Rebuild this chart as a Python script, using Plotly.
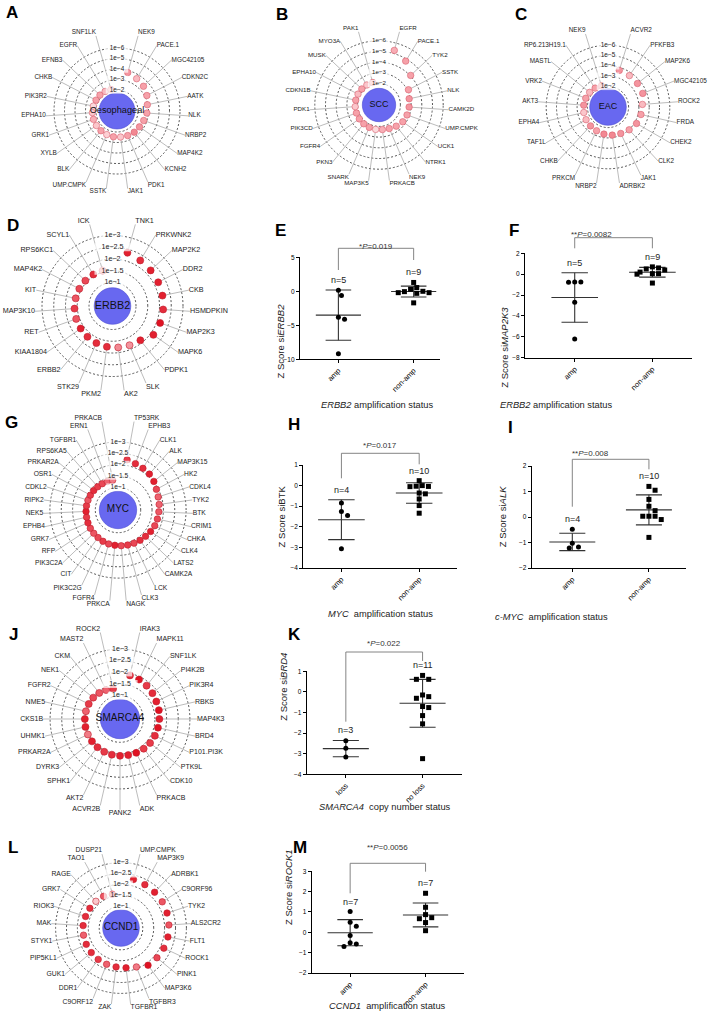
import numpy as np
import plotly.graph_objects as go

W, H = 714, 1020
FONT = "Liberation Sans, Arial, Helvetica, sans-serif"

# ---------------- radial plots: genes clockwise from 12 o'clock, -log10(p), shade
A_genes = ["NEK9", "PACE.1", "MGC42105", "CDKN2C", "AATK", "NLK", "NRBP2", "MAP4K2", "KCNH2", "PDK1", "JAK1",
           "SSTK", "UMP.CMPK", "BLK", "XYLB", "GRK1", "EPHA10", "PIK3R2", "CHKB", "EFNB3", "EGFR", "SNF1LK"]
A_logp = [3.8, 3.6, 3.45, 3.2, 2.95, 2.85, 2.7, 2.62, 2.6, 2.55, 2.5, 2.48, 2.45, 2.42, 2.4, 2.38, 2.35, 2.3,
          2.25, 2.22, 2.18, 2.12]
A_shade = [.5, .35, .45, .45, .45, .45, .45, .5, .55, .45, .3, .45, .25, .45, .3, .4, .3, .2, .45, .45, .35, .4]

B_genes = ["EGFR", "PACE.1", "TYK2", "SSTK", "NLK", "CAMK2D", "UMP.CMPK", "UCK1", "NTRK1", "NEK9", "PRKACB",
           "MAP3K5", "SNARK", "PKN3", "FGFR4", "PIK3CD", "PDK1", "CDKN1B", "EPHA10", "MUSK", "MYO3A", "PAK1"]
B_logp = [5.3, 4.8, 4.05, 3.1, 2.88, 2.82, 2.78, 2.72, 2.55, 2.4, 2.32, 2.3, 2.28, 2.26, 2.25, 2.24, 2.23, 2.22,
          2.21, 2.2, 2.19, 2.18]
B_shade = [.4, .45, .45, .45, .5, .5, .45, .45, .45, .45, .4, .2, .45, .45, .45, .45, .3, .45, .35, .45, .3, .45]

C_genes = ["ACVR2", "PFKFB3", "MAP2K6", "MGC42105", "ROCK2", "FRDA", "CHEK2", "CLK2", "JAK1", "ADRBK2", "NRBP2",
           "PRKCM", "CHKB", "TAF1L", "EPHA4", "AKT3", "VRK2", "MASTL", "RP6.213H19.1", "NEK9"]
C_logp = [3.72, 3.69, 3.66, 3.62, 3.35, 3.28, 3.2, 3.02, 2.85, 2.76, 2.66, 2.56, 2.5, 2.46, 2.41, 2.36, 2.32,
          2.28, 2.22, 2.15]
C_shade = [.5, .35, .5, .5, .35, .45, .5, .45, .5, .55, .55, .45, .5, .35, .3, .5, .45, .35, .45, .5]

D_genes = ["TNK1", "PRKWNK2", "MAP2K2", "DDR2", "CKB", "HSMDPKIN", "MAP2K3", "MAPK6", "PDPK1", "SLK", "AK2",
           "PKM2", "STK29", "ERBB2", "KIAA1804", "RET", "MAP3K10", "KIT", "MAP4K2", "RPS6KC1", "SCYL1", "ICK"]
D_logp = [2.35, 2.27, 2.22, 2.19, 2.17, 2.16, 2.15, 2.13, 1.88, 1.82, 1.78, 1.75, 1.72, 1.69, 1.66, 1.64, 1.62,
          1.6, 1.59, 1.58, 1.57, 1.56]
D_shade = [.95, .9, .95, .95, .95, .9, 1, .95, .95, .5, .55, .9, .9, .9, .95, .75, .85, .75, .8, .8, .9, .5]

G_genes = ["TP53RK", "EPHB3", "CLK1", "ALK", "MAP3K15", "HK2", "CDKL4", "TYK2", "BTK", "CRIM1", "CHKA", "CLK4",
           "LATS2", "CAMK2A", "LCK", "CLK3", "NAGK", "PRKCA", "FGFR4", "PIK3C2G", "CIT", "PIK3C2A", "RFP", "GRK7",
           "EPHB4", "NEK5", "RIPK2", "CDKL2", "OSR1", "PRKAR2A", "RPS6KA5", "TGFBR1", "ERN1", "PRKACB"]
G_logp = [2.25, 2.18, 2.14, 2.1, 2.02, 1.92, 1.86, 1.83, 1.8, 1.78, 1.76, 1.72, 1.68, 1.65, 1.62, 1.6, 1.58,
          1.56, 1.55, 1.53, 1.5, 1.48, 1.46, 1.44, 1.42, 1.41, 1.4, 1.39, 1.38, 1.37, 1.36, 1.35, 1.34, 1.33]
G_shade = [.85, .9, .9, .95, .95, .8, .7, .7, .75, .8, .8, .95, .9, .9, .8, .85, .8, .95, .8, .85, .8, .75, .8,
           .9, .85, .95, .85, .75, .85, .9, .85, .8, .7, .6]

J_genes = ["IRAK3", "MAPK11", "SNF1LK", "PI4K2B", "PIK3R4", "RBKS", "MAP4K3", "BRD4", "P101.PI3K", "PTK9L",
           "CDK10", "PRKACB", "ADK", "PANK2", "ACVR2B", "AKT2", "SPHK1", "DYRK3", "PRKAR2A", "UHMK1", "CKS1B",
           "NME5", "FGFR2", "NEK1", "CKM", "MAST2", "ROCK2"]
J_logp = [1.92, 1.88, 1.83, 1.78, 1.73, 1.71, 1.69, 1.67, 1.66, 1.65, 1.63, 1.61, 1.59, 1.58, 1.57, 1.56, 1.55,
          1.54, 1.53, 1.52, 1.51, 1.5, 1.49, 1.47, 1.43, 1.38, 1.33]
J_shade = [.9, 1, .85, .9, .95, 1, .95, 1, .9, .85, .85, 1, .95, .95, .9, .85, .9, .95, .6, .95, .95, .7, .85,
           .8, .75, .7, .85]

L_genes = ["UMP.CMPK", "MAP3K9", "ADRBK1", "C9ORF96", "TYK2", "ALS2CR2", "FLT1", "ROCK1", "PINK1", "MAP3K6",
           "TGFBR3", "TGFBR1", "ZAK", "C9ORF12", "DDR1", "GUK1", "PIP5KL1", "STYK1", "MAK", "RIOK3", "GRK7",
           "RAGE", "TAO1", "DUSP21"]
L_logp = [2.3, 2.27, 2.25, 2.24, 2.22, 2.2, 2.19, 2.17, 2.14, 2.11, 1.92, 1.84, 1.8, 1.79, 1.78, 1.77, 1.76,
          1.75, 1.74, 1.71, 1.69, 1.68, 1.66, 1.6]
L_shade = [.95, .9, .95, .75, .95, .75, .95, .9, .8, 1, .6, .95, .9, .7, .85, .9, .9, .7, .9, .9, .9, .3, .75, .7]

RINGS_HI = [2, 3, 4, 5, 6]
RINGS_HI_TXT = ["1e−2", "1e−3", "1e−4", "1e−5", "1e−6"]
RINGS_LO = [1, 1.5, 2, 2.5, 3]
RINGS_LO_TXT = ["1e−1", "1e−1.5", "1e−2", "1e−2.5", "1e−3"]

# ---------------- dot plots (Z scores)
E_amp = [0.15, -0.6, -3.8, -4.1, -9.2]
E_non = [1.3, 0.55, 0.3, -0.05, -0.2, -0.2, -0.3, 0.0, -1.7]
F_amp = [-0.75, -0.75, -0.78, -2.7, -6.2]
F_non = [0.7, 0.6, 0.5, 0.4, 0.2, 0.05, 0.0, 0.05, -0.85]
H_amp = [-0.85, -1.26, -1.45, -3.06]
H_non = [0.24, -0.03, -0.05, -0.04, 0.0, -0.36, -0.4, -0.65, -0.97, -1.34]
I_amp = [-0.48, -1.03, -1.22, -1.18]
I_non = [1.2, 1.05, 0.69, 0.42, 0.25, 0.03, 0.03, -0.1, 0.03, -0.8]
K_loss = [-2.37, -2.73, -3.16]
K_noloss = [0.8, 0.61, 0.61, -0.15, -0.31, -0.23, -0.71, -0.76, -1.15, -1.55, -3.24]
M_amp = [1.02, 0.49, 0.3, -0.16, -0.51, -0.57, -0.7]
M_non = [1.92, 1.23, 0.87, 0.67, 0.72, 0.48, 0.08]

AMP_CATS = ["amp", "non-amp"]
LOSS_CATS = ["loss", "no loss"]

SHADES = [[0, "#ffffff"], [0.3, "#fbc6cb"], [0.5, "#f4949e"], [0.75, "#ec5663"], [1, "#df1222"]]


def px_x(v):
    return v / W


def px_y(v):
    return 1 - v / H


fig = go.Figure()


def label_pos(t):
    if t < 4 or t > 356:
        return "top center"
    if abs(t - 180) < 4:
        return "bottom center"
    if t < 30:
        return "top right"
    if t <= 150:
        return "middle right"
    if t < 180:
        return "bottom right"
    if t < 210:
        return "bottom left"
    if t <= 330:
        return "middle left"
    return "top left"


def radial(num, genes, logp, shade, hub, rings, ring_txt, g):
    sub = "polar" if num == 1 else "polar%d" % num
    n = len(genes)
    theta = [(i + 1) * 360 / (n + 1) for i in range(n)]
    # labels sit further out above and below the hub, so neighbours there stack instead of colliding
    st, pw = g.get("stretch", 0.1), g.get("pw", 2)
    rlab = [g["rlab"] * (1 + st * abs(np.cos(np.radians(t))) ** pw) for t in theta]

    # leader lines from each dot out to its label
    r_l, t_l = [], []
    for e, t, rl in zip(logp, theta, rlab):
        r_l += [e, rl, None]
        t_l += [t, t, None]
    fig.add_trace(go.Scatterpolar(r=r_l, theta=t_l, mode="lines", subplot=sub, hoverinfo="skip",
                                  line=dict(color="#ababab", width=0.8)))
    fig.add_trace(go.Scatterpolar(r=logp, theta=theta, mode="markers", subplot=sub, cliponaxis=False,
                                  text=genes,
                                  marker=dict(size=g["dot"], color=shade, colorscale=SHADES, cmin=0, cmax=1,
                                              line=dict(color=g["edge"], width=0.6))))
    fig.add_trace(go.Scatterpolar(r=rlab, theta=theta, mode="text", subplot=sub, cliponaxis=False,
                                  text=genes, textposition=[label_pos(t) for t in theta],
                                  textfont=dict(size=g["fs"], color="#222", family=FONT), hoverinfo="skip"))
    # central hub
    fig.add_trace(go.Scatterpolar(r=[0], theta=[0], mode="markers+text", subplot=sub, cliponaxis=False,
                                  marker=dict(size=2 * g["hub"], color="#6868f0",
                                              line=dict(color="#4d4dd2", width=0.6)),
                                  text=[hub], textposition="middle center",
                                  textfont=dict(size=g["cfs"], color="#111", family=FONT)))
    # ring labels on a white strip
    fig.add_trace(go.Scatterpolar(r=rings, theta=[0] * len(rings), mode="markers+text", subplot=sub,
                                  cliponaxis=False, text=ring_txt, textposition="middle center",
                                  textfont=dict(size=g["fs"], color="#222", family=FONT),
                                  marker=dict(symbol="line-ew", size=[len(s) * g["fs"] * 0.55 + 2 for s in ring_txt],
                                              line=dict(color="white", width=g["fs"] + 1)),
                                  hoverinfo="skip"))
    half = g["rmax"] * g["k"]
    fig.update_layout(**{sub: dict(
        domain=dict(x=[px_x(g["cx"] - half), px_x(g["cx"] + half)],
                    y=[px_y(g["cy"] + half), px_y(g["cy"] - half)]),
        bgcolor="rgba(0,0,0,0)",
        radialaxis=dict(range=[0, g["rmax"]], tickvals=rings, showticklabels=False, ticks="", showline=False,
                        showgrid=True, gridcolor="#555", gridwidth=0.7, griddash="2px,2px"),
        angularaxis=dict(rotation=90, direction="clockwise", showgrid=False, showline=False,
                         showticklabels=False, ticks=""))})


PINK_EDGE = "#d9606e"
RED_EDGE = "#c01c2c"
radial(1, A_genes, A_logp, A_shade, "Oesophageal", RINGS_HI, RINGS_HI_TXT,
       dict(cx=117, cy=111, k=10.5, rmax=7.8, rlab=6.8, hub=18, fs=6.4, cfs=9.2, dot=6.5, edge=PINK_EDGE))
radial(2, B_genes, B_logp, B_shade, "SCC", RINGS_HI, RINGS_HI_TXT,
       dict(cx=379, cy=105, k=10.7, rmax=7.6, rlab=6.5, hub=16.7, fs=6.2, cfs=9, dot=6.5, edge=PINK_EDGE))
radial(3, C_genes, C_logp, C_shade, "EAC", RINGS_HI, RINGS_HI_TXT,
       dict(cx=608, cy=107, k=10.3, rmax=7.8, rlab=6.8, hub=18.3, fs=6.4, cfs=9, dot=6.5, edge=PINK_EDGE))
radial(4, D_genes, D_logp, D_shade, "ERBB2", RINGS_LO, RINGS_LO_TXT,
       dict(cx=112.5, cy=306, k=23.5, rmax=3.8, rlab=3.3, hub=18.3, fs=7.2, cfs=10.8, dot=7, edge=RED_EDGE))
radial(5, G_genes, G_logp, G_shade, "MYC", RINGS_LO, RINGS_LO_TXT,
       dict(cx=118, cy=510, k=22.7, rmax=4.1, rlab=3.3, hub=18.7, fs=6.7, cfs=10, dot=6.5, edge=RED_EDGE,
            stretch=0.22, pw=6))
radial(6, J_genes, J_logp, J_shade, "SMARCA4", RINGS_LO, RINGS_LO_TXT,
       dict(cx=120, cy=719, k=23.3, rmax=4.0, rlab=3.3, hub=19.7, fs=7, cfs=10, dot=7, edge=RED_EDGE,
            stretch=0.18, pw=6))
radial(7, L_genes, L_logp, L_shade, "CCND1", RINGS_LO, RINGS_LO_TXT,
       dict(cx=121, cy=928, k=21.8, rmax=3.7, rlab=3.2, hub=18.3, fs=6.8, cfs=10, dot=6.5, edge=RED_EDGE))


def swarm(vals, ppx, ppy, d=5.6):
    placed = []
    offs = np.zeros(len(vals))
    for i in np.argsort(vals)[::-1]:
        y = vals[i] * ppy
        x = 0.0
        for step in [0, 1, -1, 2, -2, 3, -3, 4, -4, 5, -5]:
            x = step * d * 0.55
            if all((x - px) ** 2 + (y - py) ** 2 >= d * d for px, py in placed):
                break
        placed.append((x, y))
        offs[i] = x / ppx
    return offs


annotations = []
shapes = []


def dotplot(j, cats, g1, g2, g, ytitle, xtitle, ptxt, br):
    xa = "x" if j == 1 else "x%d" % j
    ya = "y" if j == 1 else "y%d" % j
    ppx = (g["x1"] - g["x0"]) / (g["xr"][1] - g["xr"][0])
    ppy = (g["yb"] - g["yt"]) / (g["yr"][1] - g["yr"][0])
    for c, vals, sym in [(0, g1, "circle"), (1, g2, "square")]:
        v = np.array(vals, dtype=float)
        m, s = v.mean(), v.std(ddof=1)
        fig.add_trace(go.Scatter(
            x=[c - 0.3, c + 0.3, None, c - 0.17, c + 0.17, None, c - 0.17, c + 0.17, None, c, c],
            y=[m, m, None, m + s, m + s, None, m - s, m - s, None, m - s, m + s],
            mode="lines", line=dict(color="#333", width=1.1), xaxis=xa, yaxis=ya, hoverinfo="skip"))
        fig.add_trace(go.Scatter(x=c + swarm(v, ppx, ppy), y=v, mode="markers", xaxis=xa, yaxis=ya,
                                 cliponaxis=False, marker=dict(symbol=sym, size=5, color="black")))
        annotations.append(dict(xref=xa, yref=ya, x=c, y=max(v.max(), m + s), yanchor="bottom", yshift=3,
                                text="n=%d" % len(v), showarrow=False, font=dict(size=9, color="#222")))
    kx = "xaxis" if j == 1 else "xaxis%d" % j
    ky = "yaxis" if j == 1 else "yaxis%d" % j
    fig.update_layout(**{
        kx: dict(domain=[px_x(g["x0"]), px_x(g["x1"])], range=g["xr"], anchor=ya, tickvals=[0, 1],
                 ticktext=cats, tickangle=-45, showline=True, linecolor="black", linewidth=1.2,
                 ticks="outside", ticklen=3, tickwidth=1, tickcolor="black", showgrid=False, zeroline=False,
                 tickfont=dict(size=7.5, color="black")),
        ky: dict(domain=[px_y(g["yb"]), px_y(g["yt"])], range=g["yr"], anchor=xa, dtick=g["dt"],
                 showline=True, linecolor="black", linewidth=1.2, ticks="outside", ticklen=3, tickwidth=1,
                 tickcolor="black", showgrid=False, zeroline=False, tickfont=dict(size=6.5, color="black"))})
    # significance bracket
    xl = px_x(g["x0"] + (0 - g["xr"][0]) * ppx)
    xr = px_x(g["x0"] + (1 - g["xr"][0]) * ppx)
    top, lb, rb, py = br
    shapes.append(dict(type="path", xref="paper", yref="paper",
                       path="M %f,%f L %f,%f L %f,%f L %f,%f" % (xl, px_y(lb), xl, px_y(top), xr, px_y(top),
                                                                  xr, px_y(rb)),
                       line=dict(color="#777", width=0.9)))
    annotations.append(dict(xref="paper", yref="paper", x=(xl + xr) / 2, y=px_y(py), text=ptxt,
                            showarrow=False, font=dict(size=8, color="#333")))
    annotations.append(dict(xref="paper", yref="paper", x=px_x(g["yt_x"]), y=px_y(g["yt_y"]), text=ytitle,
                            textangle=-90, showarrow=False, font=dict(size=9.5, color="#222")))
    annotations.append(dict(xref="paper", yref="paper", x=px_x(g["xt_x"]), y=px_y(g["xt_y"]), text=xtitle,
                            showarrow=False, font=dict(size=9.3, color="#222")))


dotplot(1, AMP_CATS, E_amp, E_non,
        dict(x0=300, x1=440, yt=257.3, yb=359.3, xr=[-0.51, 1.35], yr=[-10, 5], dt=5,
             yt_x=280, yt_y=302, xt_x=377, xt_y=405),
        "Z Score si<i>ERBB2</i>", "<i>ERBB2</i> amplification status", "*<i>P</i>=0.019",
        (248.3, 270, 260, 240))
dotplot(2, AMP_CATS, F_amp, F_non,
        dict(x0=525, x1=692, yt=253.3, yb=357.7, xr=[-0.64, 1.51], yr=[-8, 2], dt=2,
             yt_x=511.7, yt_y=305, xt_x=614, xt_y=405),
        "Z Score si<i>MAP2K3</i>", "<i>ERBB2</i> amplification status", "**<i>P</i>=0.0082",
        (237.7, 248.3, 248.3, 228.3))
dotplot(3, AMP_CATS, H_amp, H_non,
        dict(x0=303.3, x1=457.3, yt=465, yb=568, xr=[-0.49, 1.49], yr=[-4, 1], dt=1,
             yt_x=281.7, yt_y=516.7, xt_x=380, xt_y=614),
        "Z Score siBTK", "<i>MYC</i>  amplification status", "*<i>P</i>=0.017",
        (453.3, 478.3, 464.3, 445))
dotplot(4, AMP_CATS, I_amp, I_non,
        dict(x0=531.7, x1=685.7, yt=466, yb=568, xr=[-0.53, 1.48], yr=[-2, 2], dt=1,
             yt_x=510, yt_y=516.7, xt_x=610, xt_y=617),
        "Z Score si<i>ALK</i>", "<i>c-MYC</i>  amplification status", "**<i>P</i>=0.008",
        (459.3, 506.7, 469.3, 453.3))
dotplot(5, LOSS_CATS, K_loss, K_noloss,
        dict(x0=306.7, x1=461.7, yt=671.3, yb=774.3, xr=[-0.51, 1.51], yr=[-4, 1], dt=1,
             yt_x=282.7, yt_y=723, xt_x=385, xt_y=814),
        "Z Score si<i>BRD4</i>", "<i>SMARCA4</i>  copy number status", "*<i>P</i>=0.022",
        (652, 721.7, 661, 643.3))
dotplot(6, AMP_CATS, M_amp, M_non,
        dict(x0=311.7, x1=464, yt=871.3, yb=973, xr=[-0.51, 1.51], yr=[-2, 3], dt=1,
             yt_x=288.3, yt_y=926.7, xt_x=388, xt_y=1013),
        "Z Score si<i>ROCK1</i>", "<i>CCND1</i>  amplification status", "**<i>P</i>=0.0056",
        (863.3, 893.3, 871.7, 854.3))

# panel letters
for letter, lx, ly in [("A", 4, 1), ("B", 274, 3), ("C", 513, 3), ("D", 5, 214), ("E", 273, 219),
                       ("F", 507, 219), ("G", 3, 411), ("H", 286, 413), ("I", 506, 416), ("J", 7, 623),
                       ("K", 286, 623), ("L", 6, 836), ("M", 291, 836)]:
    annotations.append(dict(xref="paper", yref="paper", x=px_x(lx), y=px_y(ly), xanchor="left",
                            yanchor="top", text="<b>%s</b>" % letter, showarrow=False,
                            font=dict(size=17, color="black")))

fig.update_layout(width=W, height=H, margin=dict(l=0, r=0, t=0, b=0), template="none",
                  paper_bgcolor="white", plot_bgcolor="rgba(0,0,0,0)", showlegend=False,
                  font=dict(family=FONT, color="#222"), annotations=annotations, shapes=shapes)

# the page's default body margin would shift the figure; drop it
fig.write_html("out.html", config={"displayModeBar": False},
               post_script="document.body.style.margin='0px';")
